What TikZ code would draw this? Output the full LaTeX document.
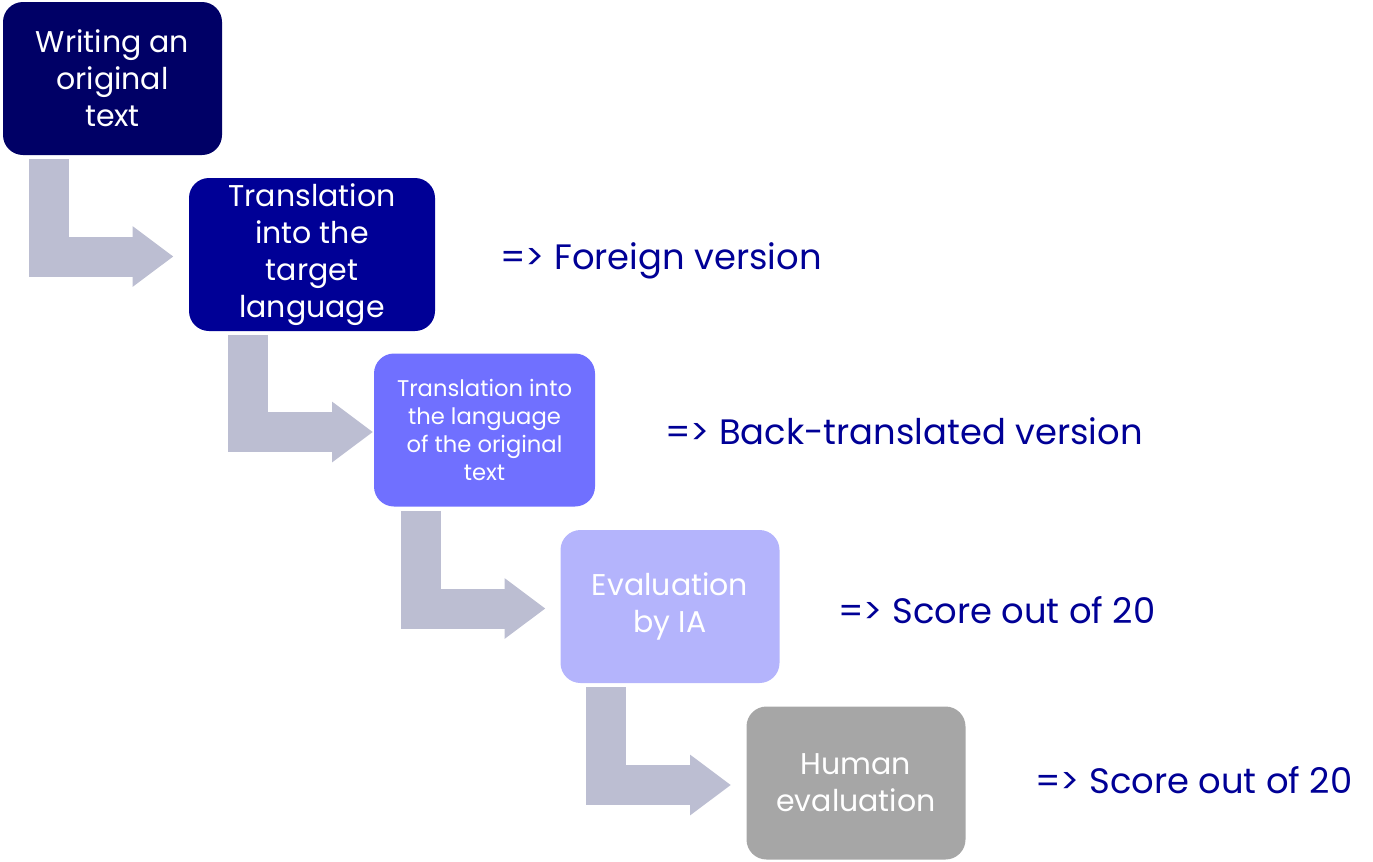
\documentclass[tikz,border=0pt]{standalone}
\usepackage{fontspec}
\setmainfont{Poppins}
\usetikzlibrary{arrows.meta,calc}
\definecolor{inkdeep}{RGB}{0,0,102}
\definecolor{inknavy}{RGB}{0,0,150}
\definecolor{inkviolet}{RGB}{112,112,255}
\definecolor{inklilac}{RGB}{180,180,252}
\definecolor{inkgray}{RGB}{166,166,166}
\definecolor{flowgray}{RGB}{188,190,210}
\tikzset{
  stage/.style={rounded corners=15pt,text=white,align=center,inner sep=0pt,minimum width=164.25pt,minimum height=114.75pt,font=\fontsize{22.5}{27.75}\selectfont},
  small/.style={stage,font=\fontsize{17}{21}\selectfont},
  flow/.style={draw=flowgray,line width=30pt,-{Triangle[length=30.75pt,width=43.5pt]}},
  result/.style={anchor=west,inner sep=0pt,text=inknavy,font=\fontsize{26.5}{32}\selectfont},
}
\newcommand{\flowstep}[2]{\draw[flow] ([shift={(-48pt,-3pt)}]#1.south) |- ($(#1.south |- #2.center)+(45.75pt,-1.5pt)$);}

\begin{document}
\begin{tikzpicture}[x=0.75pt,y=-0.75pt]
  \useasboundingbox (0,0) rectangle (1373,861);
  % the five stages
  \node[stage,fill=inkdeep] (write) at (112.5,78.5) {Writing an\\original\\text};
  \node[stage,fill=inknavy,minimum width=184.5pt] (target) at (312,254.5) {Translation\\into the\\target\\language};
  \node[small,fill=inkviolet,minimum width=165.75pt] (back) at (484.5,430) {Translation into\\the language\\of the original\\text};
  \node[stage,fill=inklilac] (iaeval) at (670,606.5) {Evaluation\\by IA};
  \node[stage,fill=inkgray] (human) at (856,783) {Human\\evaluation};
  % bent arrows
  \flowstep{write}{target}
  \flowstep{target}{back}
  \flowstep{back}{iaeval}
  \flowstep{iaeval}{human}
  % outcomes
  \node[result] (foreign) at (500,261) {=> Foreign version};
  \node[result] (backver) at (665,431) {=> Back-translated version};
  \node[result] (score1) at (838,610) {=> Score out of 20};
  \node[result] (score2) at (1035,780) {=> Score out of 20};
\end{tikzpicture}
\end{document}
